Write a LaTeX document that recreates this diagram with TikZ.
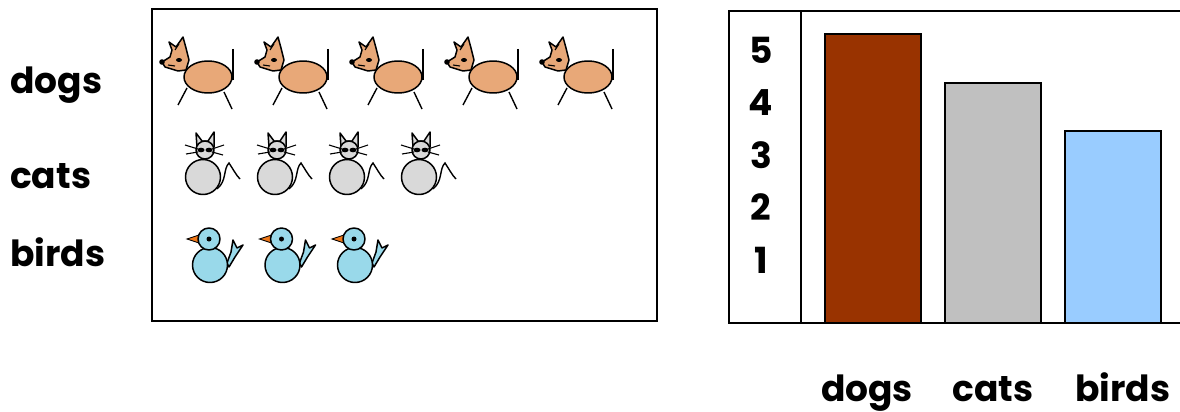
\documentclass[tikz,border=0pt]{standalone}
\usepackage{fontspec}
\setmainfont{Poppins}
\definecolor{dogtan}{HTML}{E8A878}
\definecolor{catgray}{HTML}{D9D9D9}
\definecolor{birdblue}{HTML}{99D9EA}
\definecolor{beakorange}{HTML}{F07818}
\definecolor{bardog}{HTML}{993300}
\definecolor{barcat}{HTML}{C0C0C0}
\definecolor{barbird}{HTML}{99CCFF}
\tikzset{
  outline/.style={draw=black, line width=1.5pt, line join=round},
  label/.style={font=\fontsize{36}{40}\selectfont\bfseries, inner sep=0pt},
  numlabel/.style={font=\fontsize{36}{40}\selectfont\bfseries, inner sep=0pt},
  frame/.style={draw=black, line width=1.6pt},
  barstyle/.style={draw=black, line width=2pt},
  dogpic/.pic={
    \filldraw[outline, fill=dogtan] (46,15) ellipse [x radius=24, y radius=16];
    \draw[line width=1.4pt] (71,-13) -- (71,18);
    \draw[line width=1.4pt] (25,26) -- (16,43);
    \draw[line width=1.4pt] (62,30) -- (70,47);
    \filldraw[outline, fill=dogtan] (0,0) -- (8,-5) -- (10,-12) -- (7,-20) -- (14,-15) -- (21,-25) -- (24,-14) -- (27,-2) -- (24,8) -- (16,9) -- (3,5) -- cycle;
    \draw[line width=1.1pt] (13,-12) -- (17,-18);
    \fill (17,-2) ellipse [x radius=3, y radius=2];
    \draw[line width=1.1pt] (6,3) -- (13,4);
    \fill (0,0) circle (2.8);
  },
  catpic/.pic={
    \draw[line width=1.4pt] (14,12) .. controls (24,4) and (20,-8) .. (26,-14) .. controls (30,-8) and (33,-2) .. (37,2);
    \filldraw[outline, fill=catgray] (0,0) circle (17.5);
    \filldraw[outline, fill=catgray] (-6,-30) -- (-7,-44) -- (-1,-36) -- (5,-36) -- (11,-45) -- (11,-30) -- cycle;
    \filldraw[outline, fill=catgray] (2,-27) circle (9);
    \fill (-2,-27) ellipse [x radius=3.5, y radius=2.3];
    \fill (6,-27) ellipse [x radius=3.5, y radius=2.3];
    \draw[line width=1.1pt] (-5,-28) -- (-18,-32);
    \draw[line width=1.1pt] (-5,-25) -- (-17,-23);
    \draw[line width=1.1pt] (9,-28) -- (21,-32);
    \draw[line width=1.1pt] (9,-25) -- (20,-22);
  },
  birdpic/.pic={
    \filldraw[outline, fill=birdblue] (17,-2) -- (21,-13) -- (23,-25) -- (27,-17) -- (33,-20) -- (25,-8) -- (19,2) -- cycle;
    \filldraw[outline, fill=birdblue] (0,0) circle (17.5);
    \filldraw[draw=black, line width=0.8pt, fill=beakorange] (-23,-26) -- (-11,-30) -- (-11,-22) -- cycle;
    \filldraw[outline, fill=birdblue] (-1,-26) circle (11);
    \fill (-1,-26) circle (2.5);
  }
}
\begin{document}
\begin{tikzpicture}[x=1pt, y=-1pt]
\useasboundingbox (0,0) rectangle (1180,412);
% left pictograph
\node[label, anchor=base west] (ldogs) at (10,93) {dogs};
\node[label, anchor=base west] (lcats) at (10,188) {cats};
\node[label, anchor=base west] (lbirds) at (10,266) {birds};
\draw[frame] (152,9) rectangle (657,321);
\foreach \i in {0,...,4} { \pic at (162+95*\i,62) {dogpic}; }
\foreach \i in {0,...,3} { \pic at (203+72*\i,177) {catpic}; }
\foreach \i in {0,...,2} { \pic at (210+72.5*\i,265) {birdpic}; }
% bar chart
\draw[barstyle] (1182,11) -- (729,11) -- (729,323) -- (1182,323);
\draw[barstyle] (801,11) -- (801,323);
\draw[barstyle, fill=bardog] (825,323) rectangle (921,34);
\draw[barstyle, fill=barcat] (945,323) rectangle (1041,83);
\draw[barstyle, fill=barbird] (1065,323) rectangle (1161,131);
\node[numlabel] (n5) at (761,50) {5};
\node[numlabel] (n4) at (761,103) {4};
\node[numlabel] (n3) at (761,155) {3};
\node[numlabel] (n2) at (761,207) {2};
\node[numlabel] (n1) at (761,260) {1};
\node[label, anchor=base] (bdogs) at (867,401) {dogs};
\node[label, anchor=base] (bcats) at (993,401) {cats};
\node[label, anchor=base] (bbirds) at (1123,401) {birds};
\end{tikzpicture}
\end{document}
